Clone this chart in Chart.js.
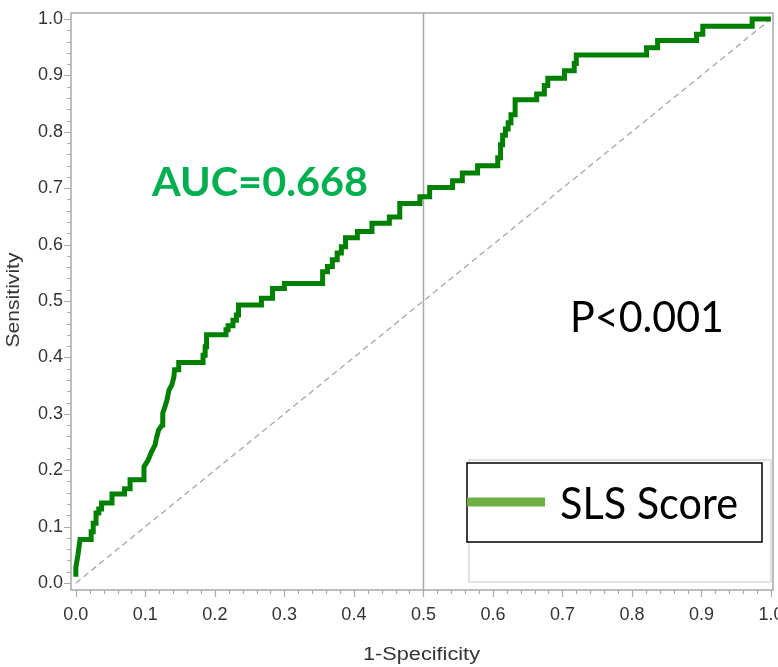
<!DOCTYPE html>
<html>
<head>
<meta charset="utf-8">
<script src="https://cdn.jsdelivr.net/npm/chart.js@4.4.1/dist/chart.umd.min.js"></script>
<style>
  html, body { margin: 0; padding: 0; background: #fff; }
  #wrap { width: 778px; height: 667px; }
</style>
</head>
<body>
<div id="wrap"><canvas id="rocChart" width="778" height="667"></canvas></div>
<script>
// ROC curve of the SLS score: 1-specificity / sensitivity pairs
const fpr = [0, 0, 0.003, 0.006, 0.022, 0.022, 0.025, 0.025, 0.029, 0.029,
  0.033, 0.033, 0.037, 0.037, 0.052, 0.052, 0.070, 0.070, 0.078, 0.078,
  0.098, 0.098, 0.104, 0.109, 0.114, 0.116, 0.119, 0.124, 0.125, 0.128,
  0.131, 0.134, 0.138, 0.141, 0.142, 0.148, 0.148, 0.183, 0.183, 0.186,
  0.186, 0.188, 0.188, 0.216, 0.216, 0.219, 0.219, 0.226, 0.226, 0.231,
  0.231, 0.234, 0.234, 0.267, 0.267, 0.283, 0.283, 0.300, 0.300, 0.355,
  0.355, 0.362, 0.362, 0.369, 0.369, 0.376, 0.376, 0.382, 0.382, 0.388,
  0.388, 0.405, 0.405, 0.426, 0.426, 0.451, 0.451, 0.466, 0.466, 0.495,
  0.495, 0.509, 0.509, 0.542, 0.542, 0.556, 0.556, 0.578, 0.578, 0.607,
  0.607, 0.611, 0.611, 0.614, 0.614, 0.618, 0.618, 0.622, 0.622, 0.626,
  0.626, 0.632, 0.632, 0.663, 0.663, 0.674, 0.674, 0.679, 0.679, 0.703,
  0.703, 0.717, 0.717, 0.720, 0.720, 0.821, 0.821, 0.837, 0.837, 0.893,
  0.893, 0.902, 0.902, 0.973, 0.973, 1.0];
const tpr = [0.011, 0.028, 0.050, 0.077, 0.077, 0.091, 0.091, 0.106, 0.106, 0.124,
  0.124, 0.131, 0.131, 0.142, 0.142, 0.158, 0.158, 0.167, 0.167, 0.183,
  0.183, 0.206, 0.218, 0.233, 0.245, 0.257, 0.271, 0.280, 0.301, 0.312,
  0.324, 0.342, 0.351, 0.365, 0.378, 0.378, 0.391, 0.391, 0.404, 0.404,
  0.419, 0.419, 0.440, 0.440, 0.449, 0.449, 0.456, 0.456, 0.466, 0.466,
  0.475, 0.475, 0.493, 0.493, 0.505, 0.505, 0.522, 0.522, 0.531, 0.531,
  0.552, 0.552, 0.561, 0.561, 0.573, 0.573, 0.585, 0.585, 0.596, 0.596,
  0.612, 0.612, 0.623, 0.623, 0.638, 0.638, 0.649, 0.649, 0.673, 0.673,
  0.685, 0.685, 0.701, 0.701, 0.713, 0.713, 0.727, 0.727, 0.740, 0.740,
  0.754, 0.754, 0.777, 0.777, 0.794, 0.794, 0.805, 0.805, 0.816, 0.816,
  0.830, 0.830, 0.857, 0.857, 0.867, 0.867, 0.882, 0.882, 0.895, 0.895,
  0.908, 0.908, 0.921, 0.921, 0.936, 0.936, 0.949, 0.949, 0.962, 0.962,
  0.973, 0.973, 0.987, 0.987, 1.0, 1.0];

const xTicks = [0, 0.1, 0.2, 0.3, 0.4, 0.5, 0.6, 0.7, 0.8, 0.9, 1.0];
const yTicks = [0, 0.1, 0.2, 0.3, 0.4, 0.5, 0.6, 0.7, 0.8, 0.9, 1.0];
const chanceLine = [0, 1];
const refX = 0.5;

const seriesName = 'SLS Score';
const aucText = 'AUC=0.668';
const pText = 'P<0.001';
const xTitle = '1-Specificity';
const yTitle = 'Sensitivity';

const axisGray = '#a9a9a9';
const labelColor = '#333333';

// draws text squeezed/stretched to a given width
function drawText(ctx, text, x, y, width, font, color, align) {
    ctx.font = font;
    const w = ctx.measureText(text).width;
    ctx.save();
    ctx.translate(x, y);
    ctx.scale(width / w, 1);
    ctx.fillStyle = color;
    ctx.textAlign = align || 'left';
    ctx.textBaseline = 'alphabetic';
    ctx.fillText(text, 0, 0);
    ctx.restore();
}

const rocDecor = {
    id: 'rocDecor',
    beforeDatasetsDraw(chart) {
        const { ctx, chartArea: a, scales } = chart;
        const rx = Math.round(scales.x.getPixelForValue(refX)) + 0.5;
        ctx.save();
        ctx.strokeStyle = axisGray;
        ctx.lineWidth = 1.5;
        ctx.beginPath();
        ctx.moveTo(rx, a.top);
        ctx.lineTo(rx, a.bottom);
        ctx.stroke();
        ctx.restore();
    },
    afterDraw(chart) {
        const { ctx, chartArea: a, scales } = chart;
        ctx.save();

        // plot frame
        ctx.strokeStyle = axisGray;
        ctx.lineWidth = 1.5;
        ctx.strokeRect(a.left, a.top, a.right - a.left, a.bottom - a.top);

        // major and minor tick marks, pointing out
        ctx.lineWidth = 1.2;
        ctx.beginPath();
        for (let i = 0; i <= 50; i++) {
            const len = i % 5 === 0 ? 7 : 4;
            const px = Math.round(scales.x.getPixelForValue(i / 50)) + 0.5;
            ctx.moveTo(px, a.bottom);
            ctx.lineTo(px, a.bottom + len);
            const py = Math.round(scales.y.getPixelForValue(i / 50)) + 0.5;
            ctx.moveTo(a.left, py);
            ctx.lineTo(a.left - len, py);
        }
        ctx.stroke();

        // axis titles
        drawText(ctx, xTitle, 421.5, 660, 117, '18px "Liberation Sans", Arial, sans-serif', labelColor, 'center');
        ctx.save();
        ctx.translate(19, 300);
        ctx.rotate(-Math.PI / 2);
        drawText(ctx, yTitle, 0, 0, 95, '18px "Liberation Sans", Arial, sans-serif', labelColor, 'center');
        ctx.restore();

        // annotations
        drawText(ctx, aucText, 152, 196, 216, 'bold 41px Lato, "Open Sans", sans-serif', '#00b050');
        drawText(ctx, pText, 570, 332, 154, '42px Lato, "Open Sans", sans-serif', '#000000');

        // legend
        ctx.fillStyle = '#ffffff';
        ctx.strokeStyle = '#d9d9d9';
        ctx.lineWidth = 1.5;
        ctx.fillRect(469, 460, 302, 122);
        ctx.strokeRect(469, 460, 302, 122);
        ctx.strokeStyle = '#000000';
        ctx.fillRect(467, 463, 295, 79);
        ctx.strokeRect(467, 463, 295, 79);
        ctx.strokeStyle = '#70ad47';
        ctx.lineWidth = 9;
        ctx.beginPath();
        ctx.moveTo(467, 502);
        ctx.lineTo(545, 502);
        ctx.stroke();
        drawText(ctx, seriesName, 560, 519, 178, '44px Lato, "Open Sans", sans-serif', '#000000');

        ctx.restore();
    }
};

const ctx = document.getElementById('rocChart');
new Chart(ctx, {
    type: 'scatter',
    data: {
        datasets: [{
            label: seriesName,
            data: fpr.map((v, i) => ({ x: v, y: tpr[i] })),
            showLine: true,
            borderColor: '#008000',
            borderWidth: 5,
            borderJoinStyle: 'miter',
            pointRadius: 0,
            tension: 0
        }, {
            label: 'chance',
            data: chanceLine.map(v => ({ x: v, y: v })),
            showLine: true,
            borderColor: '#a6a6a6',
            borderWidth: 1.3,
            borderDash: [6, 4],
            pointRadius: 0
        }]
    },
    options: {
        responsive: false,
        animation: false,
        layout: { padding: { top: 13, right: 5, left: 0, bottom: 0 } },
        plugins: {
            legend: { display: false },
            tooltip: { enabled: false }
        },
        scales: {
            x: {
                type: 'linear',
                min: -0.007,
                max: 1.003,
                afterFit: s => { s.height = 77; s.paddingLeft = 0; s.paddingRight = 0; },
                afterBuildTicks: axis => { axis.ticks = xTicks.map(v => ({ value: v })); },
                grid: { display: false, drawTicks: true, tickLength: 6 },
                border: { display: false },
                ticks: {
                    autoSkip: false,
                    maxRotation: 0,
                    padding: 8,
                    color: labelColor,
                    font: { family: '"Liberation Sans", Arial, sans-serif', size: 18 },
                    callback: v => v.toFixed(1)
                }
            },
            y: {
                type: 'linear',
                min: -0.0124,
                max: 1.0106,
                afterFit: s => { s.width = 71; s.paddingTop = 0; s.paddingBottom = 0; },
                afterBuildTicks: axis => { axis.ticks = yTicks.map(v => ({ value: v })); },
                grid: { display: false, drawTicks: true, tickLength: 6 },
                border: { display: false },
                ticks: {
                    autoSkip: false,
                    padding: 2,
                    color: labelColor,
                    font: { family: '"Liberation Sans", Arial, sans-serif', size: 18 },
                    callback: v => v.toFixed(1)
                }
            }
        }
    },
    plugins: [rocDecor]
});
</script>
</body>
</html>
